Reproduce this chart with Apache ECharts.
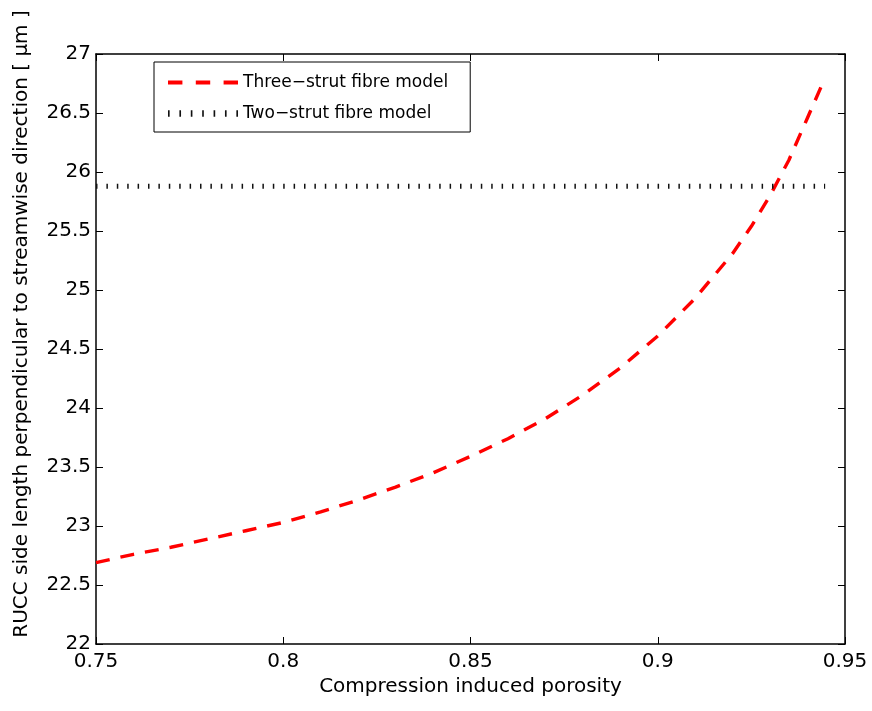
<!DOCTYPE html>
<html>
<head>
<meta charset="utf-8">
<script src="https://cdn.jsdelivr.net/npm/echarts@6/dist/echarts.min.js"></script>
<style>html,body{margin:0;padding:0;background:#fff;}#c{width:872px;height:711px;}</style>
</head>
<body>
<div id="c"></div>
<script>
// Data
var porosity = [0.750, 0.760, 0.770, 0.780, 0.790, 0.800, 0.810, 0.820, 0.830, 0.840, 0.850, 0.860, 0.870, 0.880, 0.890, 0.900, 0.910, 0.920, 0.925, 0.930, 0.935, 0.940, 0.9447];
var threeStut = [22.69, 22.76, 22.82, 22.89, 22.96, 23.03, 23.12, 23.22, 23.33, 23.45, 23.59, 23.74, 23.91, 24.11, 24.34, 24.61, 24.93, 25.31, 25.54, 25.80, 26.10, 26.46, 26.80];
var twoStrutX = [0.750, 0.9447];
var twoStrutY = [25.88, 25.88];
var xTicks = ['0.75', '0.8', '0.85', '0.9', '0.95'];
var yTicks = ['22', '22.5', '23', '23.5', '24', '24.5', '25', '25.5', '26', '26.5', '27'];
var seriesNames = ['Three\u2212strut fibre model', 'Two\u2212strut fibre model'];

var threeData = porosity.map(function (x, i) { return [x, threeStut[i]]; });
var twoData = twoStrutX.map(function (x, i) { return [x, twoStrutY[i]]; });

var FONT = 'DejaVu Sans';
function fmt(list, min, step) {
  return function (v) {
    var idx = Math.round((v - min) / step);
    return list[idx] !== undefined ? list[idx] : '';
  };
}
var axisLineStyle = { color: '#000', width: 1.5 };
var tickStyle = { color: '#000', width: 1 };

var chart = echarts.init(document.getElementById('c'), null, { renderer: 'canvas' });
chart.setOption({
  animation: false,
  backgroundColor: '#fff',
  grid: { left: 96, top: 54, right: 27, bottom: 67, containLabel: false },
  legend: {
    left: 154, top: 62,
    orient: 'vertical',
    backgroundColor: '#fff',
    borderColor: '#000', borderWidth: 1,
    padding: [12, 22, 10, 14],
    itemWidth: 70, itemHeight: 14, itemGap: 14,
    textStyle: { fontFamily: FONT, fontSize: 17, color: '#000' },
    data: [
      { name: seriesNames[0], icon: 'path://M0,6 L14,6 L14,10 L0,10 Z M27,6 L41,6 L41,10 L27,10 Z M54,6 L68,6 L68,10 L54,10 Z' },
      { name: seriesNames[1], icon: 'path://M2,4 L3.5,4 L3.5,10 L2,10 Z M12.4,4 L13.9,4 L13.9,10 L12.4,10 Z M22.8,4 L24.3,4 L24.3,10 L22.8,10 Z M33.2,4 L34.7,4 L34.7,10 L33.2,10 Z M43.6,4 L45.1,4 L45.1,10 L43.6,10 Z M54,4 L55.5,4 L55.5,10 L54,10 Z M64.4,4 L65.9,4 L65.9,10 L64.4,10 Z' }
    ]
  },
  xAxis: [{
    type: 'value', position: 'bottom',
    min: 0.75, max: 0.95, interval: 0.05,
    name: 'Compression induced porosity',
    nameLocation: 'middle', nameGap: 33,
    nameTextStyle: { fontFamily: FONT, fontSize: 20, color: '#000' },
    axisLine: { show: true, lineStyle: axisLineStyle },
    axisTick: { show: true, inside: true, length: 7, lineStyle: tickStyle },
    axisLabel: { fontFamily: FONT, fontSize: 20, color: '#000', margin: 8, formatter: fmt(xTicks, 0.75, 0.05) },
    splitLine: { show: false }
  }, {
    type: 'value', position: 'top',
    min: 0.75, max: 0.95, interval: 0.05,
    axisLine: { show: true, lineStyle: axisLineStyle },
    axisTick: { show: true, inside: true, length: 7, lineStyle: tickStyle },
    axisLabel: { show: false },
    splitLine: { show: false }
  }],
  yAxis: [{
    type: 'value', position: 'left',
    min: 22, max: 27, interval: 0.5,
    name: 'RUCC side length perpendicular to streamwise direction [ \u03bcm ]',
    nameLocation: 'middle', nameGap: 64,
    nameTextStyle: { fontFamily: FONT, fontSize: 20, color: '#000', padding: [0, 0, 0, 50] },
    axisLine: { show: true, lineStyle: axisLineStyle },
    axisTick: { show: true, inside: true, length: 7, lineStyle: tickStyle },
    axisLabel: { fontFamily: FONT, fontSize: 20, color: '#000', margin: 5, formatter: fmt(yTicks, 22, 0.5) },
    splitLine: { show: false }
  }, {
    type: 'value', position: 'right',
    min: 22, max: 27, interval: 0.5,
    axisLine: { show: true, lineStyle: axisLineStyle },
    axisTick: { show: true, inside: true, length: 7, lineStyle: tickStyle },
    axisLabel: { show: false },
    splitLine: { show: false }
  }],
  series: [{
    name: seriesNames[0],
    type: 'line',
    data: threeData,
    smooth: false,
    symbol: 'none',
    itemStyle: { color: '#ff0000' },
    lineStyle: { color: '#ff0000', width: 3.4, type: [14, 11], join: 'round' }
  }, {
    name: seriesNames[1],
    type: 'line',
    data: twoData,
    symbol: 'none',
    itemStyle: { color: '#111' },
    lineStyle: { color: '#111', width: 5, type: [1.5, 8.9], cap: 'butt' }
  }]
});
</script>
</body>
</html>
